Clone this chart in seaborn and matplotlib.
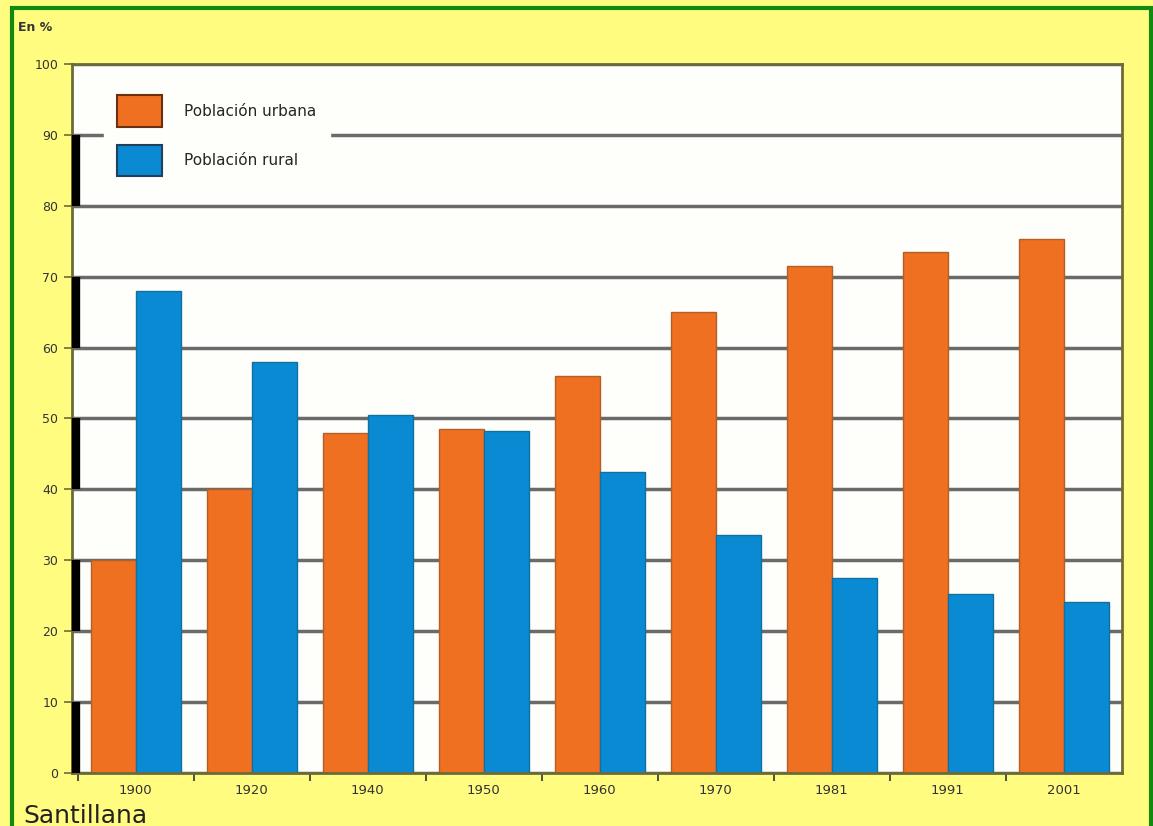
import matplotlib
matplotlib.use("Agg")
import matplotlib.pyplot as plt
from matplotlib.patches import Rectangle
from matplotlib.transforms import blended_transform_factory
import numpy as np
import pandas as pd
import seaborn as sns

years = ["1900", "1920", "1940", "1950", "1960", "1970", "1981", "1991", "2001"]
urbana = [30, 40, 48, 48.5, 56, 65, 71.5, 73.5, 75.3]
rural = [68, 58, 50.5, 48.3, 42.5, 33.5, 27.5, 25.2, 24.1]
series = ["Población urbana", "Población rural"]
colors = ["#F07022", "#0A8AD2"]

df = pd.DataFrame({
    "year": years * 2,
    "value": urbana + rural,
    "serie": [series[0]] * len(years) + [series[1]] * len(years),
})

sns.set_theme(style="white")
plt.rcParams["font.family"] = ["DejaVu Sans"]

fig = plt.figure(figsize=(11.53, 8.26), dpi=100)
fig.patch.set_facecolor("#FFFC80")
ax = fig.add_axes([0.0625, 0.0642, 0.9105, 0.8583])
ax.set_facecolor("#FEFEFA")

sns.barplot(data=df, x="year", y="value", hue="serie", palette=colors,
            width=0.78, saturation=1, ax=ax, edgecolor="#B0602A", linewidth=1)
for bar in ax.containers[1]:
    bar.set_edgecolor("#1070A0")

ax.set_xlim(-0.55, 8.5)
ax.set_ylim(0, 100)
ax.set_yticks(range(0, 101, 10))
ax.yaxis.grid(True, color="#6A6A6A", linewidth=2.5)
ax.set_axisbelow(True)
ax.set_xlabel("")
ax.set_ylabel("")

for s in ax.spines.values():
    s.set_color("#6B6B3A")
    s.set_linewidth(2)

ax.tick_params(axis="y", length=6, width=1.2, color="#6B6B3A", labelsize=9,
               labelcolor="#333333", pad=4, left=True)
ax.tick_params(axis="x", length=0, labelsize=9.5, labelcolor="#333333", pad=8)
ax.set_xticks(np.arange(-0.5, 8.5, 1), minor=True)
ax.tick_params(axis="x", which="minor", length=6, width=1.2, color="#333333", bottom=True)

# alternating black blocks on the value axis
tr = blended_transform_factory(ax.transAxes, ax.transData)
for lo in range(0, 100, 20):
    ax.plot([0.004, 0.004], [lo, lo + 10], color="black", linewidth=6,
            transform=tr, solid_capstyle="butt", clip_on=False, zorder=5)

leg = ax.legend(loc="upper left", bbox_to_anchor=(0.03, 0.975), frameon=True,
                fontsize=11, handlelength=2.95, handleheight=2.75, labelspacing=1.2,
                borderpad=0.9, handletextpad=1.4, borderaxespad=0)
leg.get_frame().set_facecolor("#FEFEFA")
leg.get_frame().set_edgecolor("#FEFEFA")
leg.get_frame().set_alpha(1)
for h, c in zip(leg.legend_handles, ["#6A3010", "#204060"]):
    h.set_edgecolor(c)
    h.set_linewidth(1.5)

fig.text(0.016, 0.962, "En %", fontsize=9, color="#333333", fontweight="bold")
fig.text(0.02, 0.004, "Santillana", fontsize=18, color="#222222")

fig.patches.append(Rectangle((0.0105, -0.02), 0.9875, 1.01, transform=fig.transFigure,
                             fill=False, edgecolor="#128A12", linewidth=3))

fig.savefig("out.png", dpi=100)
